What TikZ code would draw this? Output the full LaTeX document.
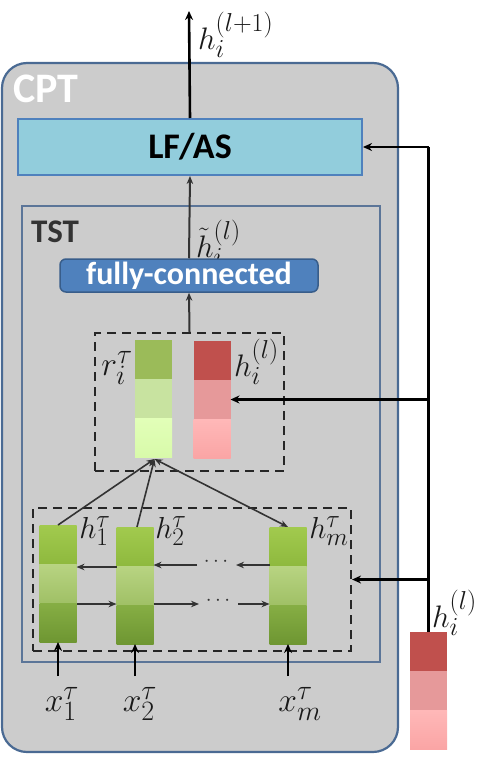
\documentclass[tikz,border=0pt]{standalone}
\usepackage[no-math]{fontspec}
\usepackage{graphicx}
\setmainfont{Carlito}
\usetikzlibrary{arrows.meta,positioning,calc}
\newcommand{\mlbl}[2]{\scalebox{#1}{$#2$}}
\definecolor{bggray}{HTML}{CCCCCC}
\definecolor{outerb}{HTML}{4A6A93}
\definecolor{tstb}{HTML}{5B7598}
\definecolor{lfasfill}{HTML}{92CDDC}
\definecolor{lfasb}{HTML}{4F81BD}
\definecolor{fcfill}{HTML}{4F81BD}
\definecolor{fcb}{HTML}{385D8A}
\definecolor{dgray}{HTML}{333333}
\tikzset{
  cellc/.style={minimum width=37pt, minimum height=39pt, inner sep=0pt, outer sep=0pt, draw=none},
  gA/.style={cellc, top color={rgb,255:red,162;green,202;blue,78}, bottom color={rgb,255:red,142;green,185;blue,62}},
  gB/.style={cellc, top color={rgb,255:red,184;green,212;blue,130}, bottom color={rgb,255:red,160;green,192;blue,102}},
  gC/.style={cellc, top color={rgb,255:red,134;green,174;blue,68}, bottom color={rgb,255:red,110;green,150;blue,50}},
  rA/.style={cellc, fill={rgb,255:red,155;green,187;blue,89}},
  rB/.style={cellc, fill={rgb,255:red,200;green,227;blue,160}},
  rC/.style={cellc, top color={rgb,255:red,226;green,255;blue,184}, bottom color={rgb,255:red,216;green,250;blue,170}},
  pA/.style={cellc, fill={rgb,255:red,192;green,80;blue,77}},
  pB/.style={cellc, fill={rgb,255:red,230;green,153;blue,154}},
  pC/.style={cellc, top color={rgb,255:red,255;green,184;blue,184}, bottom color={rgb,255:red,250;green,165;blue,165}},
  mlab/.style={font=\fontsize{24.88}{30}\selectfont, inner sep=0pt, text=black!90},
  blk/.style={line width=2.6pt, black},
  blkarr/.style={blk, -{Stealth[length=9pt,width=8pt]}},
  thinarr/.style={line width=1.6pt, dgray, -{Stealth[length=8pt,width=6.5pt]}},
  dbox/.style={draw=black!85, dashed, dash pattern=on 9pt off 6pt, line width=2.2pt, inner sep=0pt},
  dotsl/.style={font=\fontsize{22}{26}\selectfont, inner sep=0pt, text=dgray}
}
\begin{document}
\begin{tikzpicture}[x=1pt,y=-1pt]
\useasboundingbox (0,0) rectangle (484,760);
% outer CPT box
\node[draw=outerb, line width=2.2pt, fill=bggray, rounded corners=25pt, minimum width=396pt, minimum height=689pt, inner sep=0pt] (cpt) at (200,407.5) {};
\node[anchor=west, text=white, font=\fontsize{42}{48}\selectfont\bfseries, inner sep=0pt] (cptl) at (13,89) {CPT};
% LF/AS
\node[draw=lfasb, line width=2pt, fill=lfasfill, minimum width=344pt, minimum height=56pt, inner sep=0pt, font=\fontsize{36}{40}\selectfont\bfseries] (lfas) at (190,147) {LF/AS};
% TST
\node[draw=tstb, line width=2pt, minimum width=358pt, minimum height=456pt, inner sep=0pt] (tst) at (201,434) {};
\node[anchor=west, text=black!80, font=\fontsize{33}{38}\selectfont\bfseries, inner sep=0pt] (tstl) at (31,232) {TST};
% tilde h label (partially hidden by fc box)
\node[mlab, anchor=base west] (htl) at (196,257) {\mlbl{1.25}{\tilde{h}_i^{(l)}}};
% fully-connected
\node[draw=fcb, line width=1.5pt, fill=fcfill, rounded corners=6pt, minimum width=258pt, minimum height=33pt, inner sep=0pt, text=white, font=\fontsize{32}{36}\selectfont\bfseries] (fc) at (189,275.5) {fully-connected};
% dashed box 1
\node[dbox, minimum width=189pt, minimum height=138pt] (d1) at (189.5,402) {};
% r column
\node[rA] (r1) at (153.5,359.5) {};
\node[rB] (r2) at (153.5,398.5) {};
\node[rC] (r3) at (153.5,437.5) {};
\node[mlab] (rl) at (117,368) {\mlbl{1.35}{r_i^{\tau}}};
% h^(l) column in box
\node[pA] (p1) at (212,360.5) {};
\node[pB] (p2) at (212,399.5) {};
\node[pC] (p3) at (212,438.5) {};
\node[mlab, anchor=west] (pl) at (234,362) {\mlbl{1.25}{h_i^{(l)}}};
% dashed box 2
\node[dbox, minimum width=318pt, minimum height=143pt] (d2) at (192,579.5) {};
% h1
\node[gA] (a1) at (58,544.5) {};
\node[gB] (a2) at (58,583.5) {};
\node[gC] (a3) at (58,622.5) {};
% h2
\node[gA] (b1) at (135,546.5) {};
\node[gB] (b2) at (135,585.5) {};
\node[gC] (b3) at (135,624.5) {};
% hm
\node[gA] (c1) at (288,546.5) {};
\node[gB] (c2) at (288,585.5) {};
\node[gC] (c3) at (288,624.5) {};
\node[mlab] (al) at (95,531) {\mlbl{1.22}{h_1^{\tau}}};
\node[mlab] (bl) at (171,531) {\mlbl{1.22}{h_2^{\tau}}};
\node[mlab] (cl) at (329,531) {\mlbl{1.22}{h_m^{\tau}}};
% external h^(l)
\node[pA] (e1) at (428.5,651.5) {};
\node[pB] (e2) at (428.5,690.5) {};
\node[pC] (e3) at (428.5,729.5) {};
\node[mlab, anchor=west] (el) at (432,613) {\mlbl{1.25}{h_i^{(l)}}};
% inputs
\node[mlab] (x1) at (62,704) {\mlbl{1.35}{x_1^{\tau}}};
\node[mlab] (x2) at (140,704) {\mlbl{1.35}{x_2^{\tau}}};
\node[mlab] (xm) at (300,704) {\mlbl{1.35}{x_m^{\tau}}};
% output
\coordinate (out) at (189,11);
\node[mlab, anchor=west] (ol) at (198,35) {\mlbl{1.25}{h_i^{(l+1)}}};
% dots
\node[dotsl] (dt1) at (216,562) {$\cdots$};
\node[dotsl] (dt2) at (218,601) {$\cdots$};
\coordinate (bl1) at (197,565);
\coordinate (bl2) at (236,565);
\coordinate (fw1) at (199,604);
\coordinate (fw2) at (238,604);
% connectors
\draw[blkarr] (lfas.north) -- (out);
\draw[thinarr, line width=2pt] (fc.north) -- (lfas.south);
\draw[thinarr, line width=2pt] (d1.north) -- (fc.south);
\coordinate (conv) at ($(r3.south)+(1,2)$);
\draw[thinarr] (a1.north) -- (conv);
\draw[thinarr] ($(b1.north)+(2,0)$) -- (conv);
\draw[thinarr, {Stealth[length=8pt,width=6.5pt]}-{Stealth[length=8pt,width=6.5pt]}] (conv) -- (c1.north);
% recurrent arrows
\draw[thinarr] (b2.west |- 0,567) -- (a2.east |- 0,567);
\draw[thinarr] (bl1) -- (b2.east |- bl1);
\draw[thinarr] (c2.west |- bl2) -- (bl2);
\draw[thinarr] (a3.east |- 0,604) -- (b3.west |- 0,604);
\draw[thinarr] (b3.east |- fw1) -- (fw1);
\draw[thinarr] (fw2) -- (c3.west |- fw2);
% inputs
\draw[blkarr] (a3.south |- 0,676) -- (a3.south);
\draw[blkarr] (b3.south |- 0,676) -- (b3.south);
\draw[blkarr] (c3.south |- 0,676) -- (c3.south);
% right feed line
\coordinate (rt) at (e1.north |- lfas.east);
\draw[blk] (e1.north) -- (rt);
\draw[blkarr] (rt) -- (lfas.east);
\draw[blkarr, line width=2.2pt] (e1.north |- p2.east) -- (p2.east);
\draw[blkarr, line width=2.2pt] (e1.north |- d2.east) -- (d2.east);
\end{tikzpicture}
\end{document}
